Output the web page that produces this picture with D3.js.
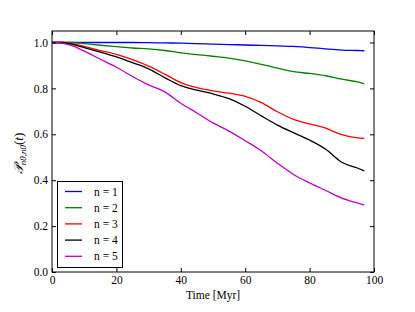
<!DOCTYPE html>
<html><head><meta charset="utf-8">
<script src="https://cdn.jsdelivr.net/npm/d3@7"></script>
<style>body{margin:0;background:#fff}svg{display:block}text{font-family:"Liberation Serif","DejaVu Serif",serif}</style>
</head><body><svg id="c" width="415" height="312"></svg>
<script>
const times = [0,3,6,10,15,20,25,30,35,40,45,50,55,60,65,70,75,80,85,90,95,97];
const n1 = [1,1,1,1,1,1,1,0.999,0.998,0.997,0.995,0.993,0.991,0.989,0.987,0.985,0.983,0.978,0.972,0.967,0.965,0.964];
const n2 = [1,1,1,0.995,0.988,0.982,0.976,0.972,0.965,0.955,0.947,0.94,0.932,0.92,0.905,0.888,0.873,0.865,0.855,0.84,0.828,0.82];
const n3 = [1,1,0.995,0.983,0.965,0.948,0.925,0.897,0.862,0.825,0.803,0.789,0.779,0.765,0.738,0.698,0.665,0.645,0.627,0.598,0.584,0.582];
const n4 = [1,1,0.993,0.978,0.958,0.937,0.912,0.885,0.847,0.812,0.792,0.776,0.755,0.722,0.68,0.64,0.607,0.575,0.535,0.478,0.452,0.441];
const n5 = [1,0.997,0.987,0.962,0.927,0.892,0.852,0.815,0.785,0.735,0.693,0.65,0.614,0.572,0.528,0.474,0.425,0.388,0.355,0.322,0.3,0.292];
const seriesNames = ["n = 1","n = 2","n = 3","n = 4","n = 5"];
const seriesColors = ["#0000ff","#008000","#ff0000","#000000","#bf00bf"];
const xTicks = [0,20,40,60,80,100];
const yTicks = [0,0.2,0.4,0.6,0.8,1.0];

const svg = d3.select("#c");
const L=52,R=374,T=31,B=272;
const x = d3.scaleLinear().domain([0,100]).range([L,R]);
const y = d3.scaleLinear().domain([0,1.05]).range([B,T]);
const all=[n1,n2,n3,n4,n5];

const line = d3.line().x((d,i)=>x(times[i])).y(d=>y(d)).curve(d3.curveMonotoneX);
all.forEach((s,k)=>{
  svg.append("path").attr("d",line(s)).attr("fill","none").attr("stroke",seriesColors[k]).attr("stroke-width",1.3);
});

const FS=11.5;
const fmtY = d=>d.toFixed(1);
svg.append("g").attr("transform",`translate(0,${B})`).call(d3.axisBottom(x).tickValues(xTicks).tickSize(-4).tickPadding(4))
  .call(g=>{g.select(".domain").remove();g.selectAll("text").attr("font-size",FS).attr("font-family","Liberation Serif").attr("fill","#000");g.selectAll("line").attr("stroke","#000");});
svg.append("g").attr("transform",`translate(0,${T})`).call(d3.axisTop(x).tickValues(xTicks).tickSize(-4).tickFormat(""))
  .call(g=>{g.select(".domain").remove();g.selectAll("line").attr("stroke","#000");});
svg.append("g").attr("transform",`translate(${L},0)`).call(d3.axisLeft(y).tickValues(yTicks).tickSize(-4).tickPadding(4).tickFormat(fmtY))
  .call(g=>{g.select(".domain").remove();g.selectAll("text").attr("font-size",FS).attr("font-family","Liberation Serif").attr("fill","#000");g.selectAll("line").attr("stroke","#000");});
svg.append("g").attr("transform",`translate(${R},0)`).call(d3.axisRight(y).tickValues(yTicks).tickSize(-4).tickFormat(""))
  .call(g=>{g.select(".domain").remove();g.selectAll("line").attr("stroke","#000");});
svg.append("rect").attr("x",L).attr("y",T).attr("width",R-L).attr("height",B-T).attr("fill","none").attr("stroke","#000").attr("stroke-width",1);

svg.append("text").attr("x",(L+R)/2).attr("y",299).attr("text-anchor","middle").attr("font-size",FS).text("Time [Myr]");
const yl = svg.append("text").attr("transform",`translate(23,${(T+B)/2+2}) rotate(-90)`).attr("text-anchor","middle").attr("font-size",13);
yl.append("tspan").attr("font-style","italic").text("𝒫");
yl.append("tspan").attr("font-size",9).attr("dy",2.5).attr("font-style","italic").text("n0,n0");
yl.append("tspan").attr("dy",-2.5).text("(");
yl.append("tspan").attr("font-style","italic").text("t");
yl.append("tspan").text(")");

const lg = svg.append("g");
lg.append("rect").attr("x",57.5).attr("y",181.5).attr("width",65).attr("height",86).attr("fill","#fff").attr("stroke","#000").attr("stroke-width",1);
seriesNames.forEach((n,k)=>{
  const yy = 191.5 + k*16.2;
  lg.append("line").attr("x1",65).attr("x2",82).attr("y1",yy).attr("y2",yy).attr("stroke",seriesColors[k]).attr("stroke-width",1.3);
  lg.append("text").attr("x",94).attr("y",yy+4).attr("font-size",FS).text(n);
});
</script></body></html>
